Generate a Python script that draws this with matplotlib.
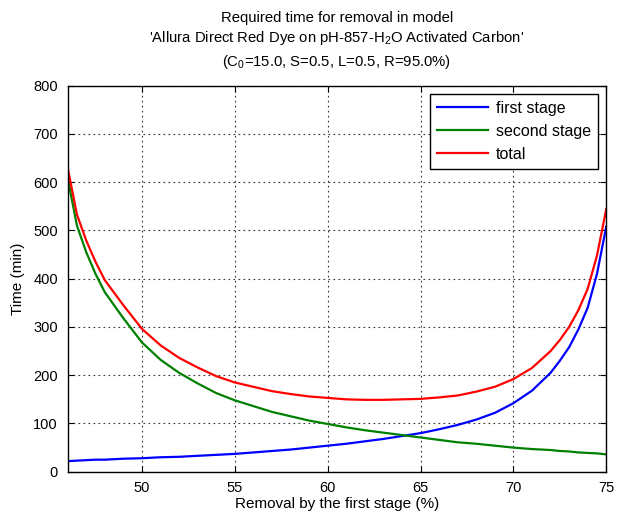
import matplotlib
matplotlib.use("Agg")
import matplotlib.pyplot as plt

plt.rcParams["font.family"] = ["Liberation Sans", "DejaVu Sans"]
plt.rcParams["mathtext.fontset"] = "custom"
plt.rcParams["mathtext.rm"] = "Liberation Sans"
plt.rcParams["mathtext.it"] = "Liberation Sans"
plt.rcParams["font.size"] = 10

# removal by the first stage (%)
removal = [46, 46.5, 47, 47.5, 48, 49, 50, 51, 52, 53, 54, 55, 56, 57, 58, 59, 60,
           61, 62, 63, 64, 65, 66, 67, 68, 69, 70, 71, 72, 72.5, 73, 73.5, 74, 74.5, 75]
first_stage = [22, 23, 24, 25, 25, 27, 28, 30, 31, 33, 35, 37, 40, 43, 46, 50, 54,
               58, 63, 68, 74, 80, 88, 97, 108, 122, 142, 168, 205, 230, 258, 295, 340, 410, 508]
second_stage = [608, 510, 455, 410, 372, 318, 268, 232, 205, 183, 163, 148, 136, 124, 115, 106, 99,
                92, 86, 81, 76, 71, 66, 61, 58, 54, 50, 47, 45, 43, 42, 40, 39, 38, 36]
total = [630, 533, 479, 435, 397, 345, 296, 262, 236, 216, 198, 185, 176, 167, 161, 156, 153,
         150, 149, 149, 150, 151, 154, 158, 166, 176, 192, 215, 250, 273, 300, 335, 379, 448, 544]

fig = plt.figure(figsize=(6.18, 5.15), dpi=100)
ax = fig.add_axes([0.1095, 0.084, 0.8715, 0.7496])

ax.plot(removal, first_stage, color="#0000ff", lw=1.6, label="first stage")
ax.plot(removal, second_stage, color="#008000", lw=1.6, label="second stage")
ax.plot(removal, total, color="#ff0000", lw=1.6, label="total")

ax.set_xlim(46, 75)
ax.set_ylim(0, 800)
ax.set_xticks([50, 55, 60, 65, 70, 75])
ax.set_yticks(range(0, 801, 100))
ax.grid(True, linestyle=(0, (1.5, 3)), color="#333333", lw=0.8)
ax.tick_params(direction="in", top=True, right=True, length=4, labelsize=10.5, pad=7)
for s in ax.spines.values():
    s.set_linewidth(1.0)
ax.set_xlabel("Removal by the first stage (%)", fontsize=11, labelpad=1)
ax.set_ylabel("Time (min)", fontsize=11, labelpad=6)

leg = ax.legend(loc="upper right", fancybox=False, edgecolor="black", framealpha=1,
                handlelength=3.2, borderaxespad=0.5, labelspacing=0.5, fontsize=11.5,
                borderpad=0.45, handletextpad=0.5)
leg.get_frame().set_linewidth(1.0)

cx = 0.545
fig.text(cx, 0.965, "Required time for removal in model", ha="center", va="center", fontsize=10.7)
fig.text(cx, 0.927, "'Allura Direct Red Dye on pH-857-H$_2$O Activated Carbon'",
         ha="center", va="center", fontsize=10.7)
fig.text(cx, 0.880, "(C$_0$=15.0, S=0.5, L=0.5, R=95.0%)", ha="center", va="center", fontsize=10.7)

fig.savefig("out.png", dpi=100)
